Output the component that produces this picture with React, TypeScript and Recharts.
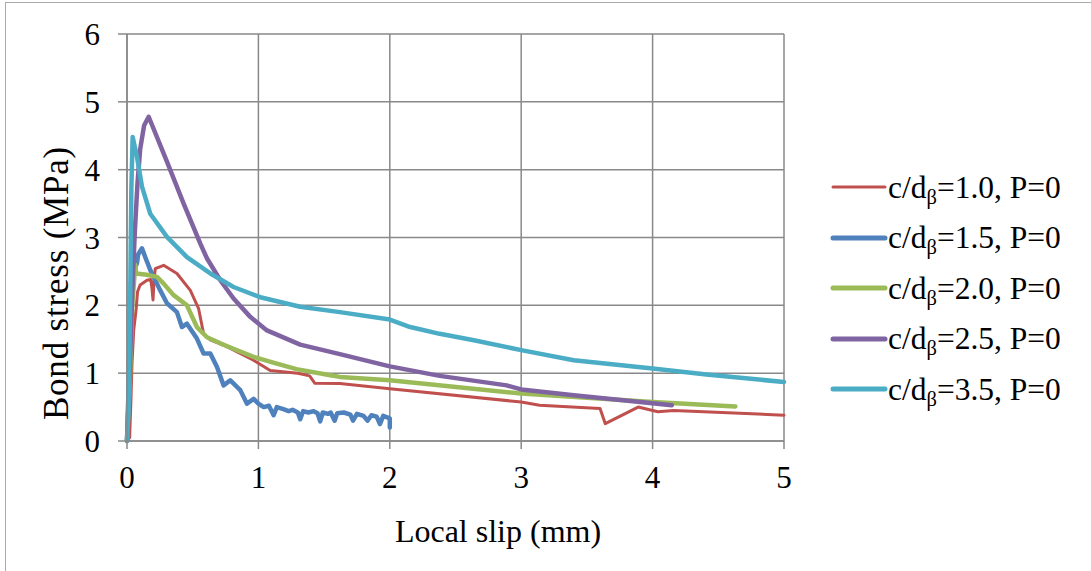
import React from 'react';
import { LineChart, Line, XAxis, YAxis, CartesianGrid } from 'recharts';

const slipTicks = [0, 1, 2, 3, 4, 5];
const stressTicks = [0, 1, 2, 3, 4, 5, 6];

const ratioLabels = ['1.0', '1.5', '2.0', '2.5', '3.5'];
const seriesColors = ['#C0504D', '#4F81BD', '#9BBB59', '#8064A2', '#4BACC6'];
const seriesWidths = [3, 4.5, 4.5, 4.5, 4.5];

// c/dβ = 1.0
const slip10 = [0, 0.02, 0.03, 0.038, 0.051, 0.07, 0.08, 0.1, 0.152, 0.18, 0.19, 0.198, 0.205, 0.215, 0.279, 0.38, 0.482, 0.545, 0.583, 0.634, 0.76, 0.963, 1.09, 1.3, 1.39, 1.43, 1.62, 2.0, 3.0, 3.14, 3.6, 3.64, 3.89, 4.04, 4.16, 5.0];
const stress10 = [0, 0.05, 0.6, 1.14, 1.63, 1.95, 2.2, 2.3, 2.37, 2.38, 2.25, 2.08, 2.35, 2.54, 2.59, 2.47, 2.22, 1.95, 1.58, 1.49, 1.39, 1.19, 1.04, 1.0, 0.96, 0.85, 0.846, 0.77, 0.575, 0.527, 0.478, 0.256, 0.5, 0.43, 0.45, 0.38];

// c/dβ = 1.5
const slip15 = [0, 0.015, 0.03, 0.045, 0.06, 0.076, 0.085, 0.1, 0.114, 0.139, 0.177, 0.253, 0.304, 0.38, 0.418, 0.456, 0.532, 0.583, 0.634, 0.685, 0.735, 0.786, 0.862, 0.913, 0.964, 1.0, 1.04, 1.08, 1.116, 1.14, 1.19, 1.23, 1.26, 1.3, 1.318, 1.34, 1.38, 1.42, 1.45, 1.47, 1.49, 1.53, 1.55, 1.58, 1.6, 1.65, 1.7, 1.72, 1.75, 1.8, 1.83, 1.86, 1.9, 1.925, 1.95, 1.98, 2.0, 2.0];
const stress15 = [0, 1.0, 1.9, 2.4, 2.55, 2.62, 2.75, 2.8, 2.84, 2.71, 2.52, 2.22, 2.03, 1.9, 1.68, 1.73, 1.51, 1.29, 1.29, 1.09, 0.82, 0.895, 0.75, 0.55, 0.62, 0.55, 0.5, 0.52, 0.38, 0.5, 0.47, 0.44, 0.46, 0.42, 0.32, 0.44, 0.42, 0.44, 0.41, 0.29, 0.42, 0.4, 0.42, 0.3, 0.41, 0.42, 0.39, 0.3, 0.4, 0.37, 0.3, 0.38, 0.36, 0.25, 0.37, 0.35, 0.33, 0.2];

// c/dβ = 2.0
const slip20 = [0, 0.02, 0.04, 0.063, 0.07, 0.15, 0.228, 0.279, 0.355, 0.456, 0.532, 0.609, 0.71, 0.81, 0.963, 1.14, 1.29, 1.547, 1.62, 2.0, 3.0, 4.0, 4.63];
const stress20 = [0, 0.8, 2.0, 2.6, 2.47, 2.45, 2.42, 2.32, 2.15, 2.0, 1.68, 1.53, 1.44, 1.36, 1.24, 1.14, 1.06, 0.97, 0.945, 0.895, 0.7, 0.575, 0.51];

// c/dβ = 2.5
const slip25 = [0, 0.02, 0.04, 0.06, 0.08, 0.1, 0.13, 0.165, 0.304, 0.431, 0.558, 0.609, 0.71, 0.811, 0.938, 1.065, 1.318, 1.62, 2.0, 2.38, 2.89, 3.0, 3.4, 3.905, 4.146];
const stress25 = [0, 1.0, 2.2, 3.1, 3.8, 4.3, 4.65, 4.78, 4.12, 3.5, 2.91, 2.69, 2.37, 2.1, 1.83, 1.63, 1.42, 1.28, 1.1, 0.96, 0.82, 0.76, 0.674, 0.575, 0.527];

// c/dβ = 3.5
const slip35 = [0, 0.012, 0.025, 0.033, 0.043, 0.076, 0.114, 0.177, 0.304, 0.456, 0.634, 0.811, 1.014, 1.318, 1.62, 2.0, 2.155, 2.38, 2.64, 3.0, 3.4, 4.0, 4.41, 5.0];
const stress35 = [0, 0.5, 2.22, 3.7, 4.48, 4.19, 3.75, 3.35, 3.01, 2.71, 2.47, 2.27, 2.12, 1.98, 1.9, 1.79, 1.68, 1.58, 1.485, 1.34, 1.19, 1.07, 0.98, 0.87];

const slips = [slip10, slip15, slip20, slip25, slip35];
const stresses = [stress10, stress15, stress20, stress25, stress35];

const FONT = '"Liberation Serif", "Times New Roman", serif';
const GRID = '#898989';

const series = ratioLabels.map((r, i) => ({
  name: `c/dβ=${r}, P=0`,
  ratio: r,
  color: seriesColors[i],
  width: seriesWidths[i],
  data: slips[i].map((x, j) => ({ x, y: stresses[i][j] })),
}));

const App: React.FC = () => {
  return (
    <div style={{ position: 'absolute', left: 0, top: 0, width: 1091, height: 571, overflow: 'hidden', background: '#fff', fontFamily: FONT }}>
      <div style={{ position: 'absolute', left: 5, top: 2, width: 1200, height: 700, border: '1.5px solid #aaaaaa' }} />
      <div style={{ position: 'absolute', left: 0, top: 0 }}>
        <LineChart width={1091} height={571} margin={{ top: 34, right: 307, bottom: 80, left: 67 }}>
          <CartesianGrid stroke={GRID} strokeWidth={1.5} />
          <XAxis
            type="number"
            dataKey="x"
            domain={[0, 5]}
            ticks={slipTicks}
            height={50}
            tickSize={8}
            tickMargin={17}
            stroke={GRID}
            strokeWidth={1.5}
            tick={{ fill: '#000', fontSize: 31, fontFamily: FONT }}
            label={{
              content: () => (
                <text x={498} y={542} textAnchor="middle" fontSize={32} fontFamily={FONT} fill="#000">
                  Local slip (mm)
                </text>
              ),
            }}
          />
          <YAxis
            type="number"
            domain={[0, 6]}
            ticks={stressTicks}
            width={60}
            tickSize={9}
            tickMargin={18}
            stroke={GRID}
            strokeWidth={1.5}
            tick={{ fill: '#000', fontSize: 31, fontFamily: FONT }}
            label={{
              content: () => (
                <text
                  x={68}
                  y={283}
                  transform="rotate(-90, 68, 283)"
                  textAnchor="middle"
                  fontSize={35}
                  letterSpacing={0.8}
                  fontFamily={FONT}
                  fill="#000"
                >
                  Bond stress (MPa)
                </text>
              ),
            }}
          />
          {series.map((s) => (
            <Line
              key={s.name}
              data={s.data}
              dataKey="y"
              name={s.name}
              type="linear"
              stroke={s.color}
              strokeWidth={s.width}
              strokeLinejoin="round"
              strokeLinecap="round"
              dot={false}
              activeDot={false}
              isAnimationActive={false}
            />
          ))}
        </LineChart>
      </div>
      <div style={{ position: 'absolute', left: 830, top: 162 }}>
        {series.map((s) => (
          <div key={s.name} style={{ display: 'flex', alignItems: 'center', height: 50.5 }}>
            <svg width={58} height={10} style={{ display: 'block' }}>
              <line x1={3} y1={5} x2={55} y2={5} stroke={s.color} strokeWidth={s.width === 3 ? 3 : 5} strokeLinecap="round" />
            </svg>
            <span style={{ fontSize: 31.5, lineHeight: 1, color: '#000', whiteSpace: 'nowrap' }}>
              c/d<sub style={{ fontSize: '0.65em', verticalAlign: '-0.3em', lineHeight: 0 }}>β</sub>={s.ratio}, P=0
            </span>
          </div>
        ))}
      </div>
    </div>
  );
};

export default App;
